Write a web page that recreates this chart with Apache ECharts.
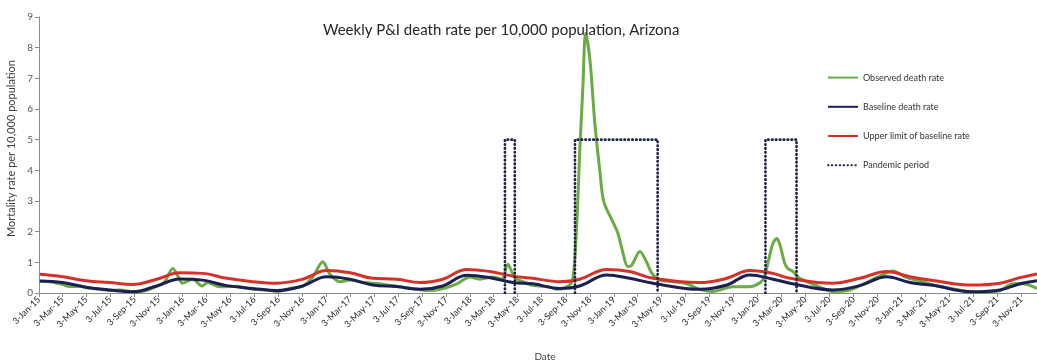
<!DOCTYPE html>
<html>
<head>
<meta charset="utf-8">
<script src="https://cdn.jsdelivr.net/npm/echarts@6/dist/echarts.min.js"></script>
<style>
  html, body { margin: 0; padding: 0; background: #ffffff; }
  #chart { width: 1037px; height: 362px; }
</style>
</head>
<body>
<div id="chart"></div>
<script>
// Baseline and upper-limit curves share the same dates
const baselineDates = [
  '2015-01-03','2015-03-02','2015-05-01','2015-06-30','2015-08-27','2015-10-27','2015-12-25',
  '2016-02-21','2016-04-22','2016-06-27','2016-08-27','2016-11-01',
  '2017-01-01','2017-03-01','2017-04-28','2017-06-28','2017-08-26','2017-10-23','2017-12-23',
  '2018-02-20','2018-04-19','2018-06-09','2018-08-16','2018-10-06','2018-12-14',
  '2019-02-10','2019-04-10','2019-08-07','2019-10-15','2019-12-12',
  '2020-02-09','2020-03-23','2020-07-10','2020-09-17','2020-11-24',
  '2021-01-22','2021-03-21','2021-07-01','2021-09-08','2021-10-29','2021-12-11'
];
const baselineRate = [
  0.39,0.34,0.19,0.10,0.04,0.23,0.46,
  0.42,0.24,0.15,0.08,0.23,
  0.53,0.45,0.26,0.21,0.12,0.23,0.58,
  0.50,0.34,0.30,0.15,0.23,0.59,
  0.48,0.32,0.12,0.26,0.59,
  0.45,0.32,0.10,0.24,0.53,
  0.34,0.25,0.04,0.10,0.30,0.40
];
const upperLimitRate = [
  0.61,0.53,0.40,0.34,0.28,0.45,0.66,
  0.64,0.48,0.37,0.32,0.45,
  0.73,0.66,0.48,0.45,0.34,0.45,0.77,
  0.70,0.55,0.48,0.37,0.45,0.77,
  0.70,0.48,0.34,0.48,0.73,
  0.64,0.48,0.32,0.48,0.70,
  0.53,0.41,0.26,0.32,0.50,0.62
];

// Observed weekly P&I death rate
const observedDates = [
  '2015-01-03','2015-02-02','2015-03-01','2015-03-20','2015-04-15','2015-05-01','2015-06-04',
  '2015-07-01','2015-07-25','2015-09-01','2015-09-27','2015-11-01','2015-11-17','2015-12-07',
  '2015-12-20','2016-01-01','2016-01-27','2016-02-19','2016-03-05','2016-04-04','2016-05-17',
  '2016-06-27','2016-08-02','2016-08-27','2016-09-29','2016-11-01','2016-11-27','2016-12-22',
  '2017-01-09','2017-02-03','2017-03-01','2017-04-08','2017-05-16','2017-07-06','2017-08-08',
  '2017-09-13','2017-10-16','2017-11-28','2017-12-31','2018-01-25','2018-02-27','2018-03-22',
  '2018-04-06','2018-04-24','2018-05-12','2018-06-09','2018-07-22','2018-08-09','2018-09-03',
  '2018-09-18','2018-09-29','2018-10-06','2018-10-14','2018-10-21','2018-11-01','2018-11-13',
  '2018-11-26','2018-12-06','2018-12-27','2019-01-11','2019-01-24','2019-02-05','2019-02-15',
  '2019-03-08','2019-03-26','2019-04-07','2019-04-28','2019-05-31','2019-07-05','2019-08-07',
  '2019-09-09','2019-10-30','2019-12-12','2020-01-14','2020-01-27','2020-02-09','2020-02-19',
  '2020-02-27','2020-03-10','2020-03-18','2020-03-31','2020-04-17','2020-05-31','2020-07-10',
  '2020-08-22','2020-10-05','2020-11-14','2020-12-10','2021-01-14','2021-02-16','2021-03-21',
  '2021-05-04','2021-06-16','2021-07-26','2021-09-08','2021-10-11','2021-11-03','2021-12-11'
];
const observedRate = [
  0.38,0.36,0.28,0.21,0.22,0.17,0.12,
  0.08,0.10,0.04,0.07,0.25,0.38,0.80,
  0.55,0.32,0.45,0.23,0.34,0.20,0.22,
  0.12,0.10,0.05,0.15,0.22,0.53,1.02,
  0.62,0.37,0.42,0.34,0.30,0.20,0.15,
  0.08,0.12,0.30,0.52,0.45,0.52,0.45,
  0.94,0.50,0.38,0.25,0.20,0.12,0.20,
  0.42,2.40,4.60,6.70,8.47,7.60,5.60,
  4.00,2.98,2.38,1.95,1.30,0.86,0.90,
  1.35,0.98,0.65,0.42,0.37,0.30,0.12,
  0.05,0.20,0.20,0.42,0.97,1.62,1.78,
  1.56,0.97,0.80,0.70,0.48,0.23,0.05,
  0.10,0.35,0.60,0.72,0.50,0.40,0.27,
  0.15,0.05,0.03,0.08,0.30,0.30,0.15
];

// Pandemic periods, drawn as boxes up to a fixed height
const pandemicStart = ['2018-03-30', '2018-09-24', '2020-01-21'];
const pandemicEnd = ['2018-04-24', '2019-04-22', '2020-04-09'];
const pandemicLevel = 5;

const monthNames = ['Jan','Feb','Mar','Apr','May','Jun','Jul','Aug','Sep','Oct','Nov','Dec'];

const pairs = (dates, values) => dates.map((d, i) => [d, values[i]]);

const pandemicSeries = pandemicStart.map((s, i) => ({
  name: 'Pandemic period',
  type: 'line',
  symbol: 'none',
  z: 5,
  lineStyle: { color: '#1d2547', width: 2.7, type: [0.5, 3.4], cap: 'round' },
  itemStyle: { color: '#1d2547' },
  data: [[s, 0], [s, pandemicLevel], [pandemicEnd[i], pandemicLevel], [pandemicEnd[i], 0]]
}));

const chart = echarts.init(document.getElementById('chart'), null, { renderer: 'canvas' });
const textFont = 'Lato, "Open Sans", sans-serif';

chart.setOption({
  animation: false,
  backgroundColor: '#ffffff',
  textStyle: { fontFamily: textFont },
  title: {
    text: 'Weekly P&I death rate per 10,000 population, Arizona',
    left: 323,
    top: 23,
    padding: 0,
    textStyle: { fontFamily: textFont, fontSize: 15, fontWeight: 'normal', color: '#262626' }
  },
  legend: {
    orient: 'vertical',
    left: 827,
    top: 72,
    padding: 0,
    itemWidth: 30,
    itemHeight: 14,
    itemGap: 18,
    itemStyle: { opacity: 0, color: 'rgba(0,0,0,0)', borderWidth: 0 },
    textStyle: { fontFamily: textFont, fontSize: 9, color: '#333333' },
    data: ['Observed death rate', 'Baseline death rate', 'Upper limit of baseline rate', 'Pandemic period']
  },
  grid: { left: 39, right: 0, top: 17, bottom: 69, containLabel: false, outerBoundsMode: 'none' },
  xAxis: {
    type: 'time',
    min: '2015-01-01',
    max: '2021-12-11',
    minInterval: 62 * 24 * 3600 * 1000,
    maxInterval: 62 * 24 * 3600 * 1000,
    name: 'Date',
    nameLocation: 'middle',
    nameGap: 59,
    nameTextStyle: { fontFamily: textFont, fontSize: 10, color: '#404040', padding: [0, 0, 0, 14] },
    axisLine: { lineStyle: { color: '#8c8c8c', width: 1 } },
    axisTick: { show: true, length: 4, lineStyle: { color: '#8c8c8c' } },
    splitLine: { show: false },
    axisLabel: {
      rotate: 45,
      margin: 5,
      fontSize: 9,
      color: '#262626',
      fontFamily: textFont,
      hideOverlap: false,
      formatter: (value) => {
        const d = new Date(value);
        return '3-' + monthNames[d.getMonth()] + '-' + String(d.getFullYear()).slice(2);
      }
    }
  },
  yAxis: {
    type: 'value',
    min: 0,
    max: 9,
    interval: 1,
    axisLine: { show: true, lineStyle: { color: '#8c8c8c', width: 1 } },
    axisTick: { show: true, length: 4, lineStyle: { color: '#8c8c8c' } },
    splitLine: { show: false },
    axisLabel: { fontSize: 10, color: '#595959', margin: 6, fontFamily: textFont }
  },
  graphic: [{
    type: 'text',
    left: 6,
    top: 60,
    rotation: Math.PI / 2,
    style: {
      text: 'Mortality rate per 10,000 population',
      fontFamily: textFont,
      fontSize: 11,
      fill: '#404040'
    }
  }],
  series: [
    {
      name: 'Observed death rate',
      type: 'line',
      symbol: 'none',
      smooth: 0.3,
      z: 3,
      lineStyle: { color: '#6aab43', width: 3 },
      itemStyle: { color: '#6aab43' },
      data: pairs(observedDates, observedRate)
    },
    {
      name: 'Baseline death rate',
      type: 'line',
      symbol: 'none',
      smooth: 0.4,
      z: 4,
      lineStyle: { color: '#1b1f52', width: 3 },
      itemStyle: { color: '#1b1f52' },
      data: pairs(baselineDates, baselineRate)
    },
    {
      name: 'Upper limit of baseline rate',
      type: 'line',
      symbol: 'none',
      smooth: 0.4,
      z: 4,
      lineStyle: { color: '#d6302a', width: 3 },
      itemStyle: { color: '#d6302a' },
      data: pairs(baselineDates, upperLimitRate)
    }
  ].concat(pandemicSeries)
});
</script>
</body>
</html>
